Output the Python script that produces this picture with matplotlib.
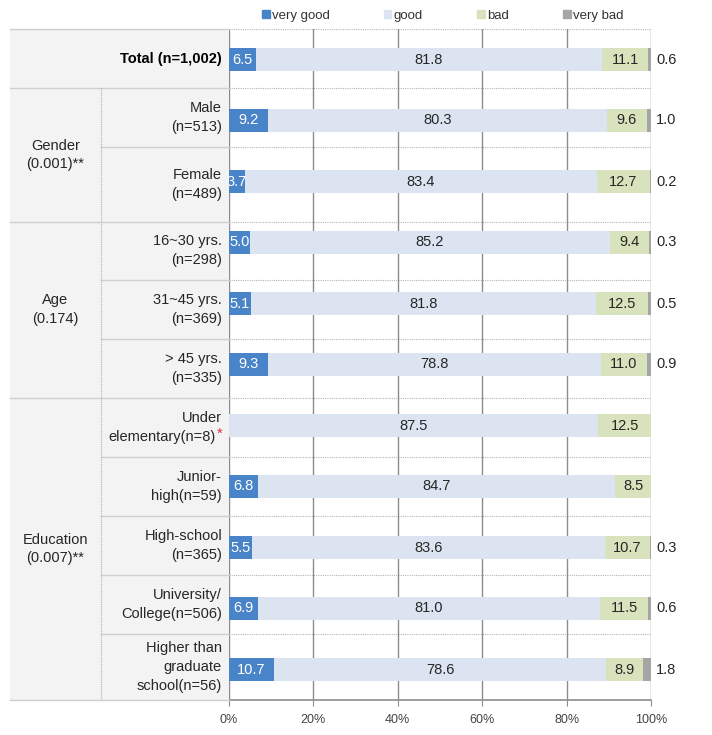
"""
Satisfaction by respondent group - stacked 100% horizontal bars with a
row-header table on the left (rebuild of the report figure).
"""

import matplotlib
matplotlib.use("Agg")
import matplotlib.pyplot as plt
from matplotlib.patches import Patch

W, H = 712, 735

CATEGORIES = ["very good", "good", "bad", "very bad"]
COLORS = ["#4a84c8", "#dbe4f0", "#d8e3bd", "#a5a5a5"]

ROW_LABELS = [
    "Total (n=1,002)",
    "Male\n(n=513)",
    "Female\n(n=489)",
    "16~30 yrs.\n(n=298)",
    "31~45 yrs.\n(n=369)",
    "> 45 yrs.\n(n=335)",
    "Under\nelementary(n=8)",
    "Junior-\nhigh(n=59)",
    "High-school\n(n=365)",
    "University/\nCollege(n=506)",
    "Higher than\ngraduate\nschool(n=56)",
]
GROUP_LABELS = ["Gender\n(0.001)**", "Age\n(0.174)", "Education\n(0.007)**"]

very_good = [6.5, 9.2, 3.7, 5.0, 5.1, 9.3, 0.0, 6.8, 5.5, 6.9, 10.7]
good = [81.8, 80.3, 83.4, 85.2, 81.8, 78.8, 87.5, 84.7, 83.6, 81.0, 78.6]
bad = [11.1, 9.6, 12.7, 9.4, 12.5, 11.0, 12.5, 8.5, 10.7, 11.5, 8.9]
very_bad = [0.6, 1.0, 0.2, 0.3, 0.5, 0.9, 0.0, 0.0, 0.3, 0.6, 1.8]

X_TICKS = [0, 20, 40, 60, 80, 100]

# table row edges (in row units) - the original table rows aren't quite even
ROW_EDGES = [0, 0.97, 1.93, 3.16, 4.11, 5.08, 6.05, 7.02, 7.98, 8.95, 9.92, 11]
GROUP_SPANS = [(0.97, 3.16), (3.16, 6.05), (6.05, 11)]
GROUP_EDGES = {0, 0.97, 3.16, 6.05, 11}

plt.rcParams["font.family"] = ["Liberation Sans", "DejaVu Sans"]
TEXT = "#262626"
GRID = "#8c8c8c"
LINE = "#cfcfcf"
FS = 10.5
BAR_FS = 10.5

fig = plt.figure(figsize=(W / 100, H / 100), dpi=100)
fig.patch.set_facecolor("white")

# ---- chart -------------------------------------------------------------
ax = fig.add_axes([229 / W, 35 / H, 422 / W, 671 / H])
ax.set_xlim(0, 100)
ax.set_ylim(11, 0)
for s in ax.spines.values():
    s.set_visible(False)

ys = [i + 0.5 for i in range(len(ROW_LABELS))]
series = [very_good, good, bad, very_bad]
lefts = [0.0] * len(ys)
for vals, color in zip(series, COLORS):
    ax.barh(ys, vals, left=lefts, height=0.39, color=color, zorder=3)
    lefts = [l + v for l, v in zip(lefts, vals)]

for i, y in enumerate(ys):
    if very_good[i] > 0:
        ax.text(very_good[i] / 2, y, f"{very_good[i]:.1f}", ha="center", va="center",
                color="white", fontsize=BAR_FS, zorder=4)
    ax.text(very_good[i] + good[i] / 2, y, f"{good[i]:.1f}", ha="center", va="center",
            color=TEXT, fontsize=BAR_FS, zorder=4)
    ax.text(very_good[i] + good[i] + bad[i] / 2, y, f"{bad[i]:.1f}", ha="center", va="center",
            color=TEXT, fontsize=BAR_FS, zorder=4)
    if very_bad[i] > 0:
        ax.text(101.2, y, f"{very_bad[i]:.1f}", ha="left", va="center",
                color=TEXT, fontsize=BAR_FS, clip_on=False)

for e in ROW_EDGES[:-1]:
    ax.axhline(e, color="#b5b5b5", lw=0.8, ls=(0, (1, 1)), zorder=1)
for t in X_TICKS:
    ax.axvline(t, color=GRID, lw=1, zorder=2)
ax.axhline(11, color=GRID, lw=1.2, zorder=2, clip_on=False)

ax.set_yticks([])
ax.set_xticks(X_TICKS)
ax.set_xticklabels([f"{t}%" for t in X_TICKS])
ax.tick_params(axis="x", length=4, color=GRID, labelcolor="#444444", labelsize=9, pad=6)

ax.legend(handles=[Patch(color=c) for c in COLORS], labels=CATEGORIES,
          loc="lower left", bbox_to_anchor=(0.065, 1.003), ncol=4, frameon=False,
          fontsize=9.5, handlelength=0.6, handleheight=0.6, handletextpad=0.15,
          columnspacing=4.1, borderaxespad=0, labelcolor="#333333")

# ---- row header table --------------------------------------------------
tb = fig.add_axes([10 / W, 35 / H, 219 / W, 671 / H])
tb.set_xlim(0, 219)
tb.set_ylim(11, 0)
tb.set_facecolor("#f3f3f3")
tb.set_xticks([])
tb.set_yticks([])
for s in tb.spines.values():
    s.set_visible(False)

for e in ROW_EDGES:
    x0 = 0 if e in GROUP_EDGES else 91
    tb.plot([x0, 219], [e, e], color=LINE, lw=1, clip_on=False)
tb.plot([91, 91], [0.97, 11], color="#b0b0b0", lw=0.8, ls=(0, (1, 1)))

line_step = 0.31
for i, label in enumerate(ROW_LABELS):
    yc = (ROW_EDGES[i] + ROW_EDGES[i + 1]) / 2
    if i == 0:
        tb.text(212, yc, label, ha="right", va="center", fontsize=FS,
                fontweight="bold", color="black")
        continue
    lines = label.split("\n")
    top = yc - line_step * (len(lines) - 1) / 2
    for k, ln in enumerate(lines):
        t = tb.text(212, top + k * line_step, ln, ha="right", va="center",
                    fontsize=FS, color=TEXT)
    if label.startswith("Under"):
        t.set_x(206)
        tb.text(206.5, top + line_step - 0.06, "*", ha="left", va="center",
                fontsize=FS, color="#e03030")

for (a, b), label in zip(GROUP_SPANS, GROUP_LABELS):
    yc = (a + b) / 2
    lines = label.split("\n")
    top = yc - line_step * (len(lines) - 1) / 2
    for k, ln in enumerate(lines):
        tb.text(45.5, top + k * line_step, ln, ha="center", va="center",
                fontsize=FS, color=TEXT)

fig.savefig("out.png", dpi=100, facecolor="white")
